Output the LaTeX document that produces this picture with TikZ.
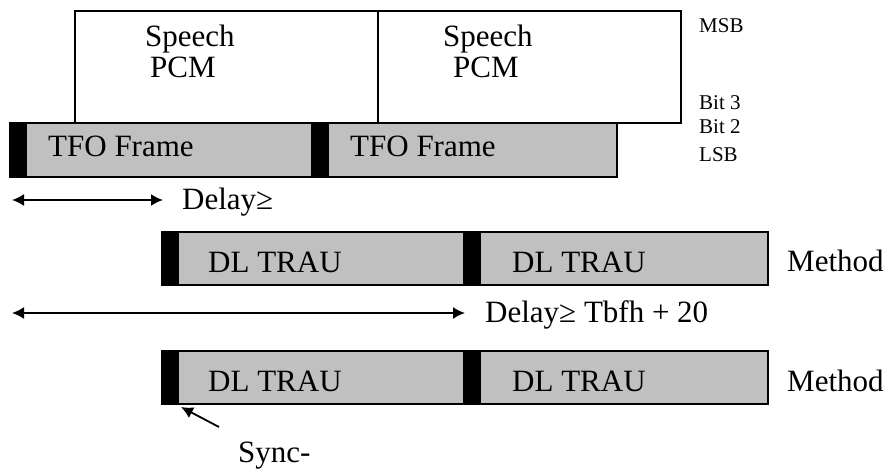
\documentclass[tikz,border=0pt]{standalone}
\usepackage{fontspec}
\setmainfont{Liberation Serif}
\usepackage{tikz}
\usetikzlibrary{arrows.meta}
\definecolor{framegray}{RGB}{192,192,192}
\tikzset{
	slot/.style={draw, line width=1.3pt, fill=framegray},
	pcmbox/.style={draw, line width=1.3pt, fill=white},
	bigtxt/.style={font=\fontsize{31}{31}\selectfont, inner sep=0pt, anchor=base west},
	smalltxt/.style={font=\fontsize{21}{21}\selectfont, inner sep=0pt, anchor=base west},
	delayarrow/.style={line width=1.8pt, {Latex[length=12pt,width=12pt]}-{Latex[length=12pt,width=12pt]}},
	syncarrow/.style={line width=1.8pt, -{Latex[length=12pt,width=12pt]}},
}
\begin{document}
\begin{tikzpicture}[x=1pt,y=-1pt]
		\fill[white] (0,0) rectangle (887,470);
		\useasboundingbox (0,0) rectangle (887,470);

		%Speech PCM
		\foreach \x in {75, 378}{
			\draw [pcmbox] (\x,11) rectangle (\x+303,123);
		}
		\node [bigtxt] (speechA) at (145,47) {Speech};
		\node [bigtxt] (pcmA) at (150,78) {PCM};
		\node [bigtxt] (speechB) at (443,47) {Speech};
		\node [bigtxt] (pcmB) at (453,78) {PCM};

		%TFO frames
		\foreach \a/\b/\c in {10/27/312, 312/329/617}{
			\draw [slot] (\a,123) rectangle (\c,177);
			\fill (\a,123) rectangle (\b,177);
		}
		\node [bigtxt] (tfoA) at (48,157) {TFO Frame};
		\node [bigtxt] (tfoB) at (350,157) {TFO Frame};

		%Bits
		\node [smalltxt] (msb) at (699,33) {MSB};
		\node [smalltxt] (bitthree) at (699,110) {Bit 3};
		\node [smalltxt] (bittwo) at (699,134) {Bit 2};
		\node [smalltxt] (lsb) at (699,162) {LSB};

		%DL TRAU
		\foreach \y in {232, 351}{
			\foreach \a/\b/\c in {162/179/464, 464/481/768}{
				\draw [slot] (\a,\y) rectangle (\c,\y+53);
				\fill (\a,\y) rectangle (\b,\y+53);
			}
		}
		\node [bigtxt] (trauA) at (208,273) {DL TRAU};
		\node [bigtxt] (trauB) at (512,273) {DL TRAU};
		\node [bigtxt] (trauC) at (208,392) {DL TRAU};
		\node [bigtxt] (trauD) at (512,392) {DL TRAU};
		\node [bigtxt] (methodA) at (787,272) {Method};
		\node [bigtxt] (methodB) at (787,392) {Method};

		%Delays
		\coordinate (delayoneL) at (12,200);
		\coordinate (delayoneR) at (163,200);
		\draw [delayarrow] (delayoneL) -- (delayoneR);
		\node [bigtxt] (delayone) at (182,210) {Delay≥};

		\coordinate (delaytwoL) at (12,313);
		\coordinate (delaytwoR) at (465,313);
		\draw [delayarrow] (delaytwoL) -- (delaytwoR);
		\node [bigtxt] (delaytwo) at (485,323) {Delay≥ Tbfh + 20};

		%Sync
		\node [bigtxt] (sync) at (238,463) {Sync-};
		\coordinate (synctail) at (219,427);
		\coordinate (synchead) at (181,407);
		\draw [syncarrow] (synctail) -- (synchead);
\end{tikzpicture}
\end{document}
